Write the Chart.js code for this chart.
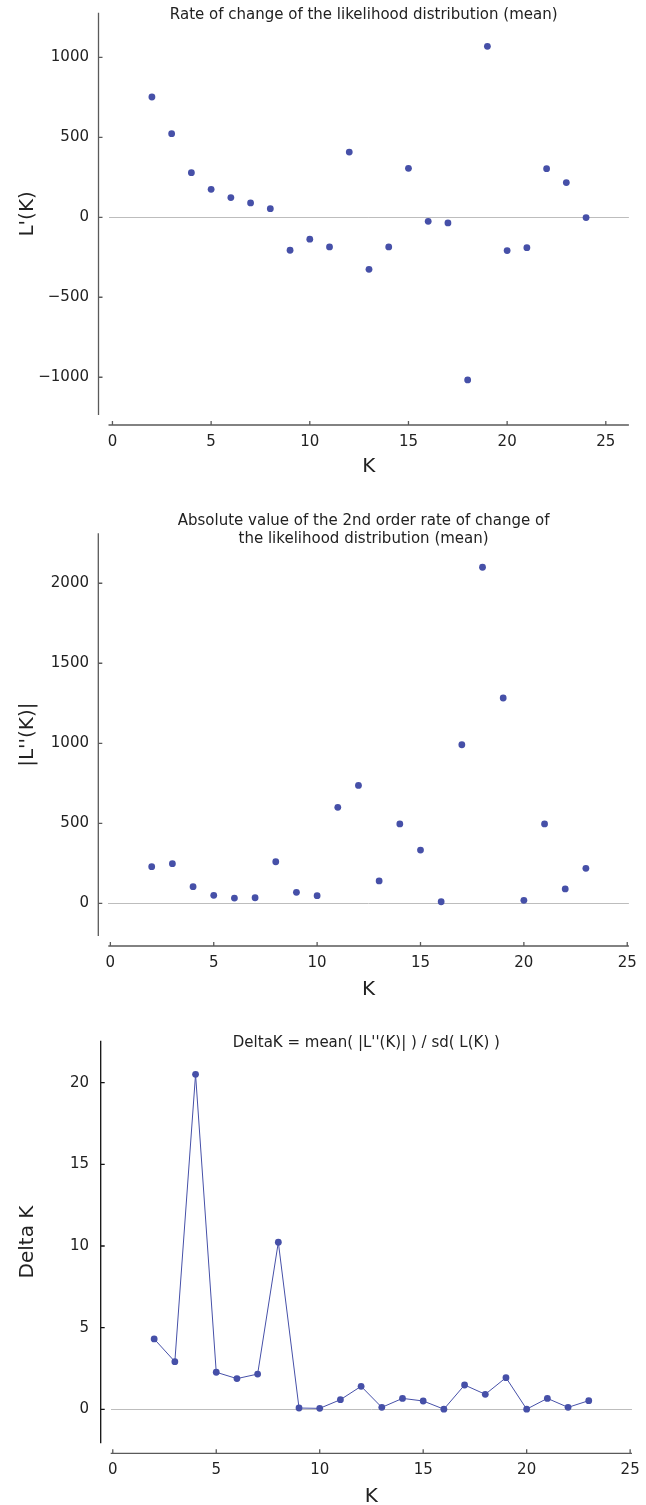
<!DOCTYPE html>
<html><head><meta charset="utf-8">
<script src="https://cdn.jsdelivr.net/npm/chart.js@4"></script>
<style>
html,body{margin:0;padding:0;background:#fff;}
#wrap{position:relative;width:646px;height:1505px;overflow:hidden;}
canvas{position:absolute;left:0;}
</style></head><body>
<div id="wrap">
<canvas id="c1" width="646" height="500" style="top:0px"></canvas>
<canvas id="c2" width="646" height="510" style="top:500px"></canvas>
<canvas id="c3" width="646" height="495" style="top:1010px"></canvas>
</div>
<script>
// ---- data ----
const kRate = [2,3,4,5,6,7,8,9,10,11,12,13,14,15,16,17,18,19,20,21,22,23,24];
const lPrimeMean = [752,523,279,175,123,90,54,-206,-137,-185,408,-325,-185,306,-25,-35,-1017,1069,-208,-190,304,217,-2];

const kSecond = [2,3,4,5,6,7,8,9,10,11,12,13,14,15,16,17,18,19,20,21,22,23];
const lDoublePrimeAbs = [229,248,104,50,33,35,260,69,48,600,737,140,496,333,10,991,2100,1283,19,496,90,219];

const kDelta = [2,3,4,5,6,7,8,9,10,11,12,13,14,15,16,17,18,19,20,21,22,23];
const deltaK = [4.31,2.92,20.51,2.27,1.88,2.16,10.23,0.08,0.06,0.59,1.41,0.12,0.67,0.51,0.01,1.49,0.92,1.94,0.01,0.67,0.12,0.53];

const xTicks = [0,5,10,15,20,25];
const yTicks1 = [-1000,-500,0,500,1000];
const yTicks2 = [0,500,1000,1500,2000];
const yTicks3 = [0,5,10,15,20];

const titles = [
  'Rate of change of the likelihood distribution (mean)',
  ['Absolute value of the 2nd order rate of change of','the likelihood distribution (mean)'],
  "DeltaK = mean( |L''(K)| ) / sd( L(K) )"
];
const yTitles = ["L'(K)", "|L''(K)|", 'Delta K'];
const xTitle = 'K';

// ---- style ----
const FONT = "'DejaVu Sans', sans-serif";
Chart.defaults.font.family = FONT;
Chart.defaults.color = '#222';
const DOT = '#4650a8';

const spinePlugin = {
  id: 'spines',
  afterLayout(chart, args, o) {
    // center the title between the detached y spine and the right edge of the plot
    const t = chart.titleBlock;
    if (t) { t.left = chart.chartArea.left - o.yGap; t.right = chart.chartArea.right; }
  },
  afterDraw(chart, args, o) {
    const {ctx, chartArea: a, scales: {x, y}} = chart;
    const sx = a.left - o.yGap, sy = a.bottom + o.xGap;
    ctx.save();
    ctx.lineWidth = 1.3;
    ctx.strokeStyle = o.yColor;
    ctx.beginPath();
    ctx.moveTo(sx, a.top); ctx.lineTo(sx, a.bottom);
    y.ticks.forEach(t => { const p = y.getPixelForValue(t.value); ctx.moveTo(sx, p); ctx.lineTo(sx + 4, p); });
    ctx.stroke();
    ctx.strokeStyle = o.xColor;
    ctx.beginPath();
    ctx.moveTo(a.left, sy); ctx.lineTo(a.right, sy);
    x.ticks.forEach(t => { const p = x.getPixelForValue(t.value); ctx.moveTo(p, sy); ctx.lineTo(p, sy - 4); });
    ctx.stroke();
    ctx.restore();
  }
};

function makeChart(id, g) {
  const canvas = document.getElementById(id);
  const H = canvas.height, W = canvas.width;
  const pts = g.xs.map((k, i) => ({x: k, y: g.ys[i]}));
  const lines = Array.isArray(g.title) ? g.title.length : 1;
  const tLH = 18.75;
  return new Chart(canvas, {
    type: 'scatter',
    data: {datasets: [{
      data: pts,
      showLine: g.line,
      borderColor: DOT,
      borderWidth: 1,
      backgroundColor: DOT,
      pointBackgroundColor: DOT,
      pointBorderWidth: 0,
      pointRadius: 3.4,
      pointHoverRadius: 3.4
    }]},
    options: {
      responsive: false,
      animation: false,
      devicePixelRatio: 1,
      layout: {padding: {left: 0, top: 0, bottom: 0, right: W - g.right}},
      plugins: {
        legend: {display: false},
        tooltip: {enabled: false},
        title: {
          display: true, text: g.title, fullSize: false,
          font: {size: 15, weight: 'normal', lineHeight: 1.25},
          color: '#222',
          padding: {top: g.titleY - tLH / 2, bottom: g.top - (g.titleY - tLH / 2) - lines * tLH}
        },
        spines: {xGap: 10, yGap: 10, xColor: '#5a5a5a', yColor: g.ySpineColor}
      },
      scales: {
        x: {
          type: 'linear', position: 'bottom',
          min: g.xmin, max: g.xmax,
          grid: {display: false, drawTicks: false},
          border: {display: false},
          afterBuildTicks: s => { s.ticks = xTicks.map(v => ({value: v})); },
          afterFit: s => { s.height = H - g.bottom; s.paddingLeft = 0; s.paddingRight = 0; },
          ticks: {font: {size: 15}, padding: 18, maxRotation: 0, color: '#222'},
          title: {display: true, text: xTitle, font: {size: 20, lineHeight: 1}, padding: {top: 0, bottom: g.xTitlePad}, color: '#222'}
        },
        y: {
          type: 'linear', position: 'left',
          min: g.ymin, max: g.ymax,
          grid: {
            drawTicks: false,
            lineWidth: 1,
            color: c => (c.tick && c.tick.value === 0) ? '#bdbdbd' : 'rgba(0,0,0,0)'
          },
          border: {display: false},
          afterBuildTicks: s => { s.ticks = g.yTicks.map(v => ({value: v})); },
          afterFit: s => { s.width = g.left; s.paddingTop = 0; s.paddingBottom = 0; },
          ticks: {
            font: {size: 15}, padding: g.left - 89, color: '#222',
            callback: v => String(v).replace('-', '\u2212')
          },
          title: {display: true, text: g.yTitle, font: {size: 20}, padding: {top: 16, bottom: 0}, color: '#222'}
        }
      }
    },
    plugins: [spinePlugin]
  });
}

makeChart('c1', {
  xs: kRate, ys: lPrimeMean, line: false, title: titles[0], yTitle: yTitles[0], yTicks: yTicks1,
  left: 108.5, right: 628.9, top: 12.7, bottom: 415, titleY: 15, xTitlePad: 23, ySpineColor: '#5a5a5a',
  xmin: -0.2, xmax: 26.17, ymin: -1236, ymax: 1279
});
makeChart('c2', {
  xs: kSecond, ys: lDoublePrimeAbs, line: false, title: titles[1], yTitle: yTitles[1], yTicks: yTicks2,
  left: 108.3, right: 628.9, top: 33.3, bottom: 436, titleY: 20.7, xTitlePad: 10, ySpineColor: '#5a5a5a',
  xmin: -0.1, xmax: 25.08, ymin: -204, ymax: 2312
});
makeChart('c3', {
  xs: kDelta, ys: deltaK, line: true, title: titles[2], yTitle: yTitles[2], yTicks: yTicks3,
  left: 110.7, right: 632, top: 30.7, bottom: 433.3, titleY: 33.3, xTitlePad: -2, ySpineColor: '#111',
  xmin: -0.1, xmax: 25.09, ymin: -2.08, ymax: 22.57
});
</script>
</body></html>
